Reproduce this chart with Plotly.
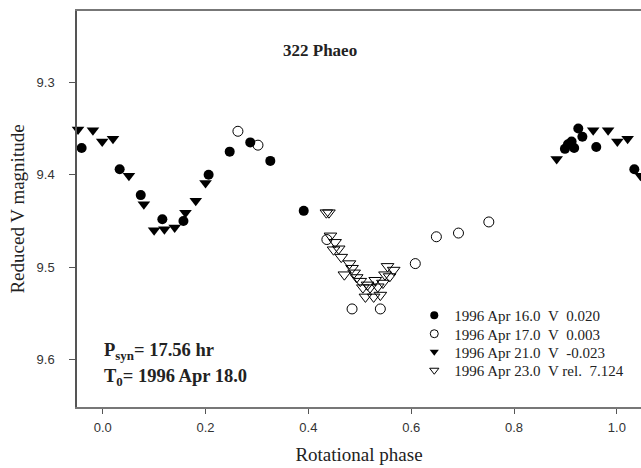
import plotly.graph_objects as go

# Apr 16.0 (filled circles)
apr16_phase = [-0.041, 0.033, 0.074, 0.116, 0.157, 0.206, 0.247, 0.287, 0.326, 0.391,
               0.899, 0.905, 0.912, 0.917, 0.925, 0.933, 0.960, 1.034]
apr16_mag = [9.371, 9.394, 9.422, 9.448, 9.450, 9.400, 9.375, 9.365, 9.385, 9.439,
             9.372, 9.367, 9.364, 9.371, 9.350, 9.359, 9.370, 9.394]

# Apr 17.0 (open circles)
apr17_phase = [0.263, 0.302, 0.436, 0.485, 0.540, 0.608, 0.649, 0.692, 0.751]
apr17_mag = [9.353, 9.368, 9.470, 9.545, 9.545, 9.496, 9.467, 9.463, 9.451]

# Apr 21.0 (filled triangles)
apr21_phase = [-0.048, -0.019, -0.001, 0.020, 0.051, 0.080, 0.100, 0.120, 0.140, 0.161,
               0.181, 0.200, 0.883, 0.954, 0.983, 1.001, 1.021, 1.046]
apr21_mag = [9.351, 9.352, 9.364, 9.361, 9.401, 9.432, 9.460, 9.459, 9.457, 9.441,
             9.428, 9.409, 9.383, 9.352, 9.352, 9.364, 9.361, 9.401]

# Apr 23.0 (open triangles)
apr23_phase = [0.435, 0.440, 0.443, 0.449, 0.452, 0.459, 0.464, 0.470, 0.480, 0.485,
               0.489, 0.494, 0.501, 0.506, 0.511, 0.515, 0.520, 0.527, 0.530, 0.535,
               0.540, 0.545, 0.549, 0.554, 0.558, 0.566]
apr23_mag = [9.441, 9.441, 9.466, 9.481, 9.473, 9.480, 9.489, 9.508, 9.496, 9.501,
             9.506, 9.511, 9.515, 9.522, 9.532, 9.519, 9.522, 9.532, 9.514, 9.521,
             9.530, 9.517, 9.508, 9.499, 9.510, 9.503]

NB = "\u00a0"
legend_names = ["1996 Apr 16.0" + NB * 2 + "V" + NB * 2 + "0.020",
                "1996 Apr 17.0" + NB * 2 + "V" + NB * 2 + "0.003",
                "1996 Apr 21.0" + NB * 2 + "V" + NB * 2 + "-0.023",
                "1996 Apr 23.0" + NB * 2 + "V rel." + NB * 2 + "7.124"]

x_ticks = [0.0, 0.2, 0.4, 0.6, 0.8, 1.0]
y_ticks = [9.3, 9.4, 9.5, 9.6]

symbols = ["circle", "circle-open", "triangle-down", "triangle-down-open"]
sizes = [10, 10, 11, 11]
series = [(apr16_phase, apr16_mag), (apr17_phase, apr17_mag),
          (apr21_phase, apr21_mag), (apr23_phase, apr23_mag)]
legend_ids = ["legend", "legend2", "legend3", "legend4"]
legend_rows_y = [0.2311, 0.1844, 0.1389, 0.0922]

serif = "Liberation Serif, Times New Roman, serif"
sans = "Liberation Sans, Arial, sans-serif"

fig = go.Figure()
for (xs, ys), sym, sz, nm in zip(series, symbols, sizes, legend_names):
    fig.add_trace(go.Scatter(x=xs, y=ys, mode="markers", name=nm, showlegend=False,
                             cliponaxis=False,
                             marker=dict(symbol=sym, size=sz, color="black",
                                         line=dict(width=1 if "open" in sym else 0,
                                                   color="black"))))
# legend-only entries with smaller symbols, one legend box per row
for sym, nm, lid in zip(symbols, legend_names, legend_ids):
    fig.add_trace(go.Scatter(x=[None], y=[None], mode="markers", name=nm, showlegend=True,
                             legend=lid,
                             marker=dict(symbol=sym, size=8, color="black",
                                         line=dict(width=1 if "open" in sym else 0,
                                                   color="black"))))

legend_layout = {}
for lid, ly in zip(legend_ids, legend_rows_y):
    legend_layout[lid] = dict(x=0.598, y=ly, xanchor="left", yanchor="middle",
                              font=dict(family=serif, size=15, color="#222"),
                              bgcolor="rgba(0,0,0,0)", borderwidth=0)

fig.update_layout(
    width=641, height=468,
    margin=dict(l=77, r=0, t=11, b=61),
    plot_bgcolor="white", paper_bgcolor="white",
    showlegend=True,
    xaxis=dict(range=[-0.05, 1.047], tickvals=x_ticks, tickformat=".1f",
               ticks="outside", ticklen=5, tickcolor="#555", ticklabelstandoff=3,
               showline=True, linecolor="#777", linewidth=1.5, mirror=True,
               showgrid=False, zeroline=False,
               tickfont=dict(family=sans, size=13, color="#333"),
               title=dict(text="Rotational phase", font=dict(family=serif, size=19, color="#222"),
                          standoff=13)),
    yaxis=dict(range=[9.651, 9.223], tickvals=y_ticks, tickformat=".1f",
               ticks="outside", ticklen=6, tickcolor="#555", ticklabelstandoff=12,
               showline=True, linecolor="#555", linewidth=1.5,
               showgrid=False, zeroline=False,
               tickfont=dict(family=sans, size=13, color="#333"),
               title=dict(text="Reduced V magnitude", font=dict(family=serif, size=19, color="#222"),
                          standoff=7)),
    **legend_layout,
)

fig.add_annotation(text="<b>322 Phaeo</b>", xref="paper", yref="paper", x=0.43, y=0.93,
                   showarrow=False, font=dict(family=serif, size=17, color="#222"))
fig.add_annotation(text="<b>P<sub>syn</sub>= 17.56 hr</b>", xref="paper", yref="paper",
                   x=0.045, y=0.14, xanchor="left", yanchor="middle", showarrow=False,
                   font=dict(family=serif, size=18.5, color="#222"))
fig.add_annotation(text="<b>T<sub>0</sub>= 1996 Apr 18.0</b>", xref="paper", yref="paper",
                   x=0.045, y=0.075, xanchor="left", yanchor="middle", showarrow=False,
                   font=dict(family=serif, size=18.5, color="#222"))

fig.write_html("out.html")
